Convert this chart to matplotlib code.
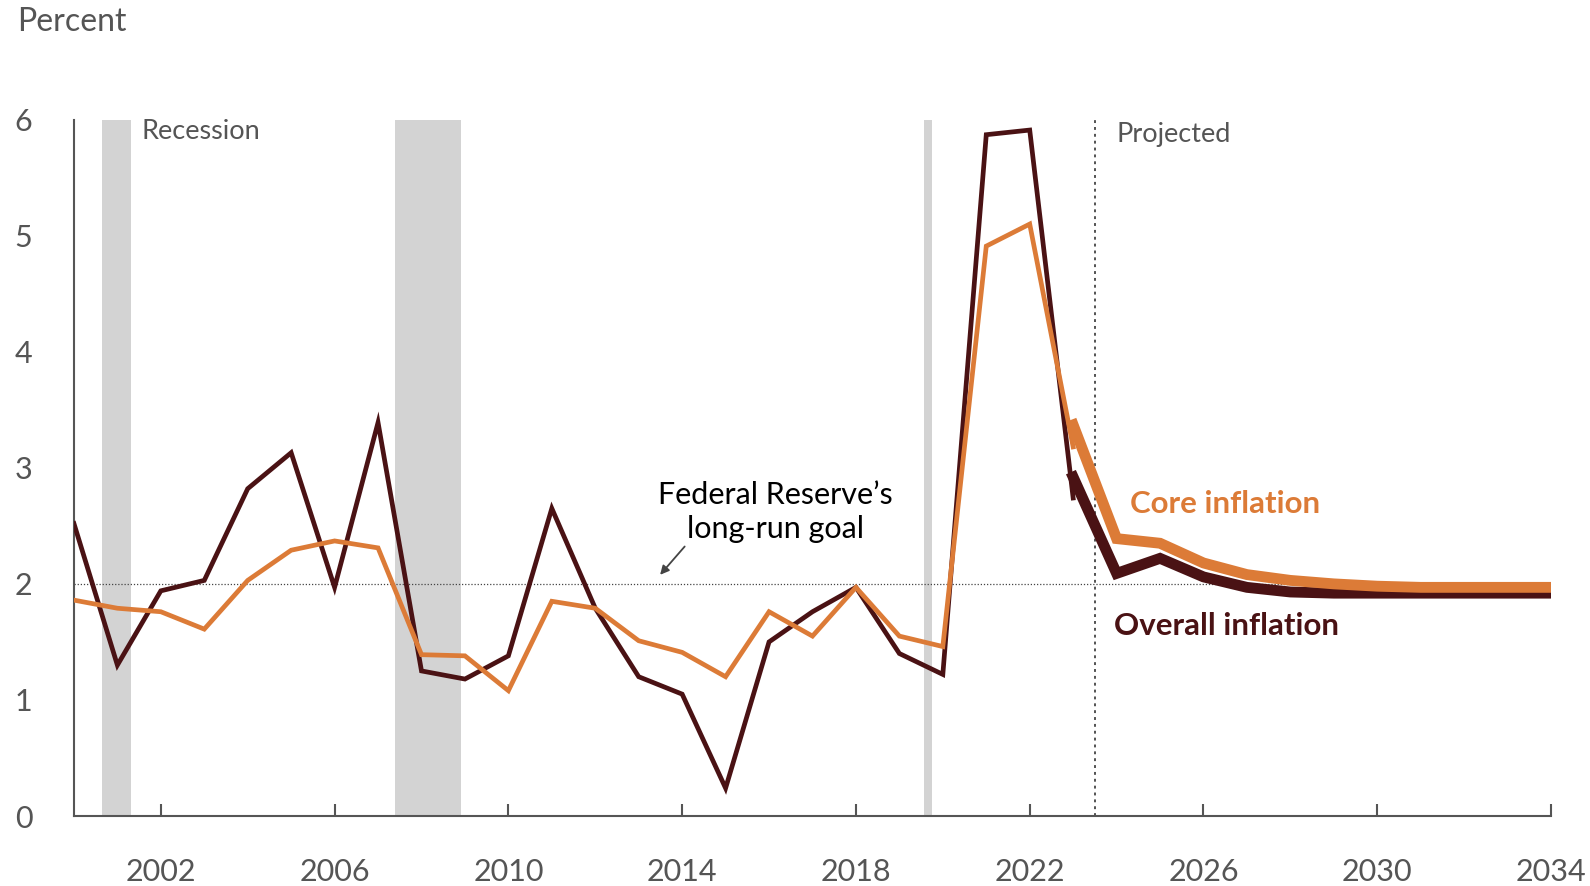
import matplotlib
matplotlib.use("Agg")
from matplotlib import pyplot as plt

plt.rcParams['font.family'] = ['Lato', 'DejaVu Sans']

# historical annual values
hist_years = list(range(2000, 2024))
overall_hist = [2.52, 1.30, 1.94, 2.03, 2.82, 3.13, 1.97, 3.39, 1.25, 1.18, 1.38, 2.65,
                1.79, 1.20, 1.05, 0.24, 1.50, 1.76, 1.97, 1.40, 1.22, 5.87, 5.91, 2.74]
core_hist = [1.86, 1.79, 1.76, 1.61, 2.03, 2.29, 2.37, 2.31, 1.39, 1.38, 1.08, 1.85,
             1.79, 1.51, 1.41, 1.20, 1.76, 1.55, 1.97, 1.55, 1.46, 4.91, 5.10, 3.18]

# projections
proj_years = list(range(2023, 2035))
overall_proj = [2.92, 2.09, 2.22, 2.06, 1.97, 1.93, 1.92, 1.92, 1.92, 1.92, 1.92, 1.92]
core_proj = [3.37, 2.39, 2.35, 2.18, 2.08, 2.03, 2.00, 1.98, 1.97, 1.97, 1.97, 1.97]

recessions = [(2000.65, 2001.31), (2007.40, 2008.92), (2019.56, 2019.75)]
goal = 2.0
proj_start = 2023.5

dark = '#4a1214'
orange = '#dc7b37'
grey = '#555555'

fig = plt.figure(figsize=(15.9, 8.86), dpi=100)
ax = fig.add_axes([0.0465, 0.079, 0.929, 0.786])

for a, b in recessions:
    ax.axvspan(a, b, ymin=0, ymax=1, color='#d3d3d3', lw=0, zorder=0)

ax.axhline(goal, color='#444444', lw=0.9, ls=(0, (1, 1.5)), zorder=1)
ax.axvline(proj_start, color='#444444', lw=1.3, ls=(0, (1.6, 2.2)), zorder=1)

ax.plot(hist_years, overall_hist, color=dark, lw=3.4, zorder=3, solid_joinstyle='miter')
ax.plot(hist_years, core_hist, color=orange, lw=3.4, zorder=4, solid_joinstyle='miter')
ax.plot(proj_years, overall_proj, color=dark, lw=7.8, zorder=5, solid_joinstyle='miter')
ax.plot(proj_years, core_proj, color=orange, lw=7.8, zorder=6, solid_joinstyle='miter')

ax.set_xlim(2000, 2034)
ax.set_ylim(0, 6)
ax.set_xticks(range(2002, 2035, 4))
ax.set_yticks(range(0, 7))
for s in ['top', 'right']:
    ax.spines[s].set_visible(False)
for s in ['left', 'bottom']:
    ax.spines[s].set_color(grey)
    ax.spines[s].set_linewidth(1.5)
ax.tick_params(axis='x', direction='in', length=9, width=1.5, color=grey,
               labelsize=22, labelcolor=grey, pad=30)
ax.tick_params(axis='y', length=0, labelsize=22, labelcolor=grey, pad=30)

fig.text(0.011, 0.975, 'Percent', fontsize=23, color=grey, va='center', ha='left')
ax.text(2001.55, 5.90, 'Recession', fontsize=19.5, color=grey, va='center', ha='left')
ax.text(2024.0, 5.87, 'Projected', fontsize=19.5, color=grey, va='center', ha='left')

ax.text(2016.15, 2.62, "Federal Reserve\u2019s\nlong-run goal", fontsize=22, color='black',
        ha='center', va='center', linespacing=1.27)
ax.annotate('', xy=(2013.45, 2.06), xytext=(2014.1, 2.34),
            arrowprops=dict(arrowstyle='-|>', color='#444444', lw=1.3, mutation_scale=13))

ax.text(2024.3, 2.69, 'Core inflation', fontsize=22.5, fontweight='bold', color=orange,
        ha='left', va='center')
ax.text(2023.95, 1.64, 'Overall inflation', fontsize=22.5, fontweight='bold', color=dark,
        ha='left', va='center')

fig.savefig('out.png', dpi=100)
